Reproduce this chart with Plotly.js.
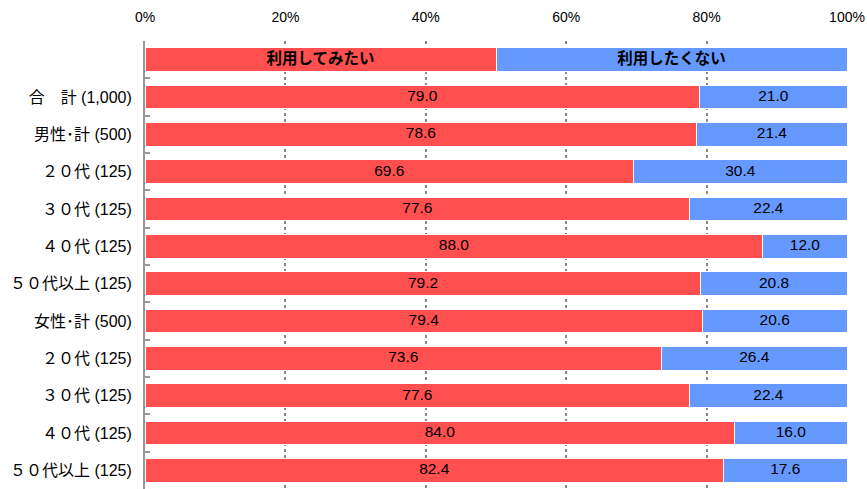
<!DOCTYPE html>
<html><head><meta charset="utf-8">
<script src="https://cdn.plot.ly/plotly-3.0.1.min.js"></script>
<style>html,body{margin:0;padding:0;background:#fff;}#c{width:867px;height:489px;}</style>
</head><body><div id="c"></div>
<script>
const categories = ['header','合　計(1,000)','男性･計(500)','２０代(125)','３０代(125)','４０代(125)','５０代以上(125)','女性･計(500)','２０代(125) ','３０代(125) ','４０代(125) ','５０代以上(125) '];
const tickLabels = ['','合　計 (1,000)','男性･計 (500)','２０代 (125)','３０代 (125)','４０代 (125)','５０代以上 (125)','女性･計 (500)','２０代 (125)','３０代 (125)','４０代 (125)','５０代以上 (125)'];
const seriesNames = ['利用してみたい','利用したくない'];
const useYes = [50, 79.0, 78.6, 69.6, 77.6, 88.0, 79.2, 79.4, 73.6, 77.6, 84.0, 82.4];
const useNo  = [50, 21.0, 21.4, 30.4, 22.4, 12.0, 20.8, 20.6, 26.4, 22.4, 16.0, 17.6];
const xTicks = [0,20,40,60,80,100];

const font = 'Liberation Sans, Arial, Noto Sans CJK JP, sans-serif';
function labels(vals, name){ return vals.map((v,i)=> i===0 ? '<b>'+name+'</b>' : v.toFixed(1)); }
const colors = ['#FF4F4F','#6699FF'];
const series = [useYes, useNo];
const bars = series.map((vals,k)=>({
  type:'bar', orientation:'h', y:categories, x:vals, name:seriesNames[k],
  marker:{color:colors[k], line:{color:'#ffffff', width:1}},
  textposition:'none', hoverinfo:'none'
}));
const mids = [useYes.map(v=>v/2), useYes.map((v,i)=>v + useNo[i]/2)];
const texts = series.map((vals,k)=>({
  type:'scatter', mode:'text', y:categories, x:mids[k],
  text:labels(vals, seriesNames[k]), textposition:'middle center',
  textfont:{color:'#000', size:15.5, family:'Liberation Sans, Arial, Noto Sans CJK JP'},
  hoverinfo:'none', cliponaxis:false
}));
const layout = {
  width:867, height:489, margin:{l:145, r:20, t:41, b:0},
  barmode:'stack', bargap:0.36, showlegend:false,
  paper_bgcolor:'#fff', plot_bgcolor:'#fff',
  font:{family:font, color:'#000'},
  xaxis:{side:'top', range:[0,100], tickvals:xTicks, ticktext:xTicks.map(v=>v+'%'),
    showgrid:true, gridcolor:'#888', griddash:'dot', gridwidth:2, zeroline:false,
    showline:false, ticks:'', tickfont:{size:14, family:font}, ticklabelstandoff:15, fixedrange:true},
  yaxis:{range:[categories.length-0.5, -0.5], autorange:false, type:'category', tickvals:categories, ticktext:tickLabels,
    showline:true, linecolor:'#999', linewidth:2, ticks:'inside', tickson:'boundaries', ticklen:5, tickcolor:'#999', tickwidth:2,
    tickfont:{size:16, family:'Liberation Sans, Noto Sans CJK JP', color:'#000'}, ticklabelstandoff:8, showgrid:false, zeroline:false},
};
Plotly.newPlot('c', bars.concat(texts), layout, {staticPlot:true, displayModeBar:false});
</script></body></html>
